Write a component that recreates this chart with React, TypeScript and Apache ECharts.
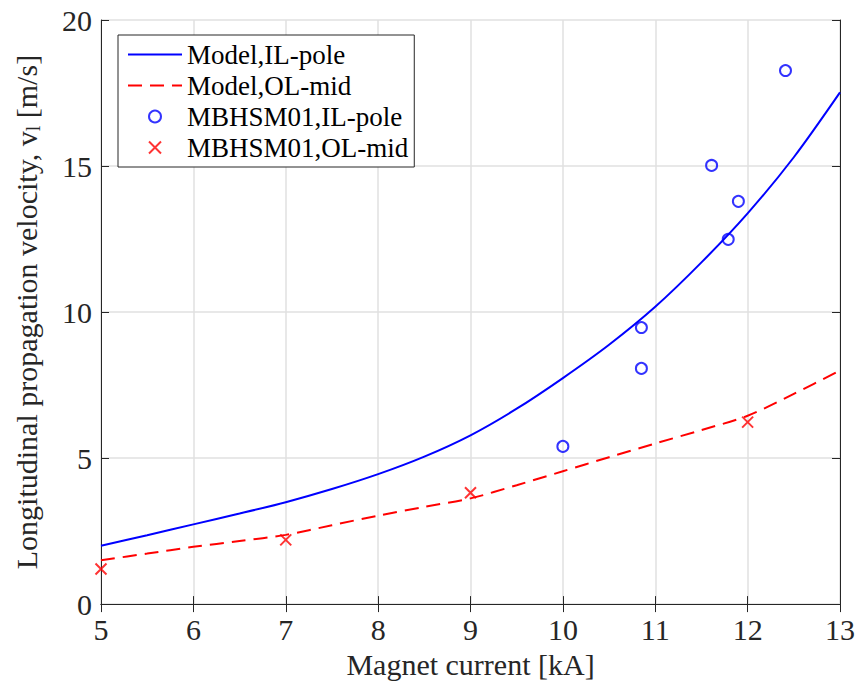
import React, { useEffect, useRef } from "react";
import * as echarts from "echarts";

// Model curves
const modelX = [5, 5.5, 6, 6.5, 7, 7.5, 8, 8.5, 9, 9.5, 10, 10.5, 11, 11.5, 12, 12.5, 13];
const modelILpole = [2.0, 2.36, 2.73, 3.1, 3.49, 3.94, 4.45, 5.05, 5.78, 6.69, 7.74, 8.88, 10.18, 11.7, 13.38, 15.3, 17.52];
const modelOLmid = [1.5, 1.73, 1.96, 2.16, 2.37, 2.7, 3.03, 3.33, 3.62, 4.07, 4.55, 5.03, 5.5, 5.96, 6.45, 7.2, 8.0];

// Measurements
const measILx = [10.0, 10.85, 10.85, 11.61, 11.79, 11.9, 12.41];
const measILy = [5.4, 8.07, 9.47, 15.02, 12.49, 13.79, 18.27];
const measOLx = [5, 7, 9, 12];
const measOLy = [1.2, 2.2, 3.81, 6.23];

const xTicksMin = 5;
const xTicksMax = 13;
const yTicksMin = 0;
const yTicksMax = 20;

const FONT = "'Liberation Serif', 'Times New Roman', serif";
const AX = "#262626";

export default function App() {
  const ref = useRef<HTMLDivElement>(null);
  useEffect(() => {
    if (!ref.current) return;
    const chart = echarts.init(ref.current, null, { renderer: "svg" });
    const pair = (xs: number[], ys: number[]) => xs.map((x, i) => [x, ys[i]]);
    const axisCommon = {
      axisLine: { show: true, lineStyle: { color: AX, width: 1 } },
      axisTick: { show: true, inside: true, length: 8, lineStyle: { color: AX, width: 1 } },
    };
    const hiddenSym = { color: "rgba(0,0,0,0)", borderWidth: 0, opacity: 0 };
    chart.setOption({
      animation: false,
      backgroundColor: "#ffffff",
      textStyle: { fontFamily: FONT },
      grid: { left: 101, right: 15, top: 20, bottom: 78, containLabel: false },
      legend: {
        orient: "vertical",
        left: 118,
        top: 35,
        padding: [6, 6, 6, 9],
        itemGap: 4,
        itemWidth: 54,
        itemHeight: 12,
        backgroundColor: "#ffffff",
        borderColor: AX,
        borderWidth: 1,
        borderRadius: 0,
        textStyle: { fontFamily: FONT, fontSize: 27, color: "#000" },
        data: [
          { name: "Model,IL-pole", itemStyle: hiddenSym },
          { name: "Model,OL-mid", itemStyle: hiddenSym },
          { name: "MBHSM01,IL-pole" },
          { name: "MBHSM01,OL-mid" },
        ],
      },
      xAxis: [
        {
          type: "value",
          min: xTicksMin,
          max: xTicksMax,
          interval: 1,
          ...axisCommon,
          axisLabel: { color: AX, fontSize: 30, fontFamily: FONT, margin: 10 },
          splitLine: { show: true, lineStyle: { color: "#e0e0e0", width: 1.5 } },
          name: "Magnet current [kA]",
          nameLocation: "middle",
          nameGap: 44,
          nameTextStyle: { color: AX, fontSize: 30, fontFamily: FONT, verticalAlign: "top" },
        },
        {
          type: "value",
          position: "top",
          min: xTicksMin,
          max: xTicksMax,
          interval: 1,
          ...axisCommon,
          axisLabel: { show: false },
          splitLine: { show: false },
        },
      ],
      yAxis: [
        {
          type: "value",
          min: yTicksMin,
          max: yTicksMax,
          interval: 5,
          ...axisCommon,
          axisLabel: { color: AX, fontSize: 30, fontFamily: FONT, margin: 9 },
          splitLine: { show: true, lineStyle: { color: "#e0e0e0", width: 1.5 } },
          name: "Longitudinal propagation velocity, v{sub|l} [m/s]",
          nameLocation: "middle",
          nameGap: 58,
          nameTextStyle: {
            color: AX,
            fontSize: 30,
            fontFamily: FONT,
            rich: {
              sub: { fontSize: 20, fontFamily: FONT, color: AX, verticalAlign: "bottom", padding: [14, 0, 0, 0] },
            },
          },
        },
        {
          type: "value",
          position: "right",
          min: yTicksMin,
          max: yTicksMax,
          interval: 5,
          ...axisCommon,
          axisLabel: { show: false },
          splitLine: { show: false },
        },
      ],
      series: [
        {
          name: "Model,IL-pole",
          type: "line",
          data: pair(modelX, modelILpole),
          smooth: 0.3,
          symbol: "none",
          lineStyle: { color: "#0000ff", width: 2 },
          itemStyle: { color: "#0000ff" },
          z: 3,
        },
        {
          name: "Model,OL-mid",
          type: "line",
          data: pair(modelX, modelOLmid),
          smooth: 0.3,
          symbol: "none",
          lineStyle: { color: "#ff0000", width: 2, type: [14, 8] },
          itemStyle: { color: "#ff0000" },
          z: 3,
        },
        {
          name: "MBHSM01,IL-pole",
          type: "scatter",
          data: pair(measILx, measILy),
          symbol: "circle",
          symbolSize: 11,
          itemStyle: { color: "rgba(0,0,0,0)", borderColor: "#0000ff", borderWidth: 2 },
          z: 4,
        },
        {
          name: "MBHSM01,OL-mid",
          type: "scatter",
          data: pair(measOLx, measOLy),
          symbol: "path://M0,0L10,10M10,0L0,10",
          symbolSize: 11,
          itemStyle: { color: "rgba(0,0,0,0)", borderColor: "#ff0000", borderWidth: 2 },
          z: 4,
        },
      ],
    });
    return () => chart.dispose();
  }, []);
  return <div ref={ref} style={{ width: 858, height: 684, position: "absolute", left: 0, top: 0 }} />;
}
